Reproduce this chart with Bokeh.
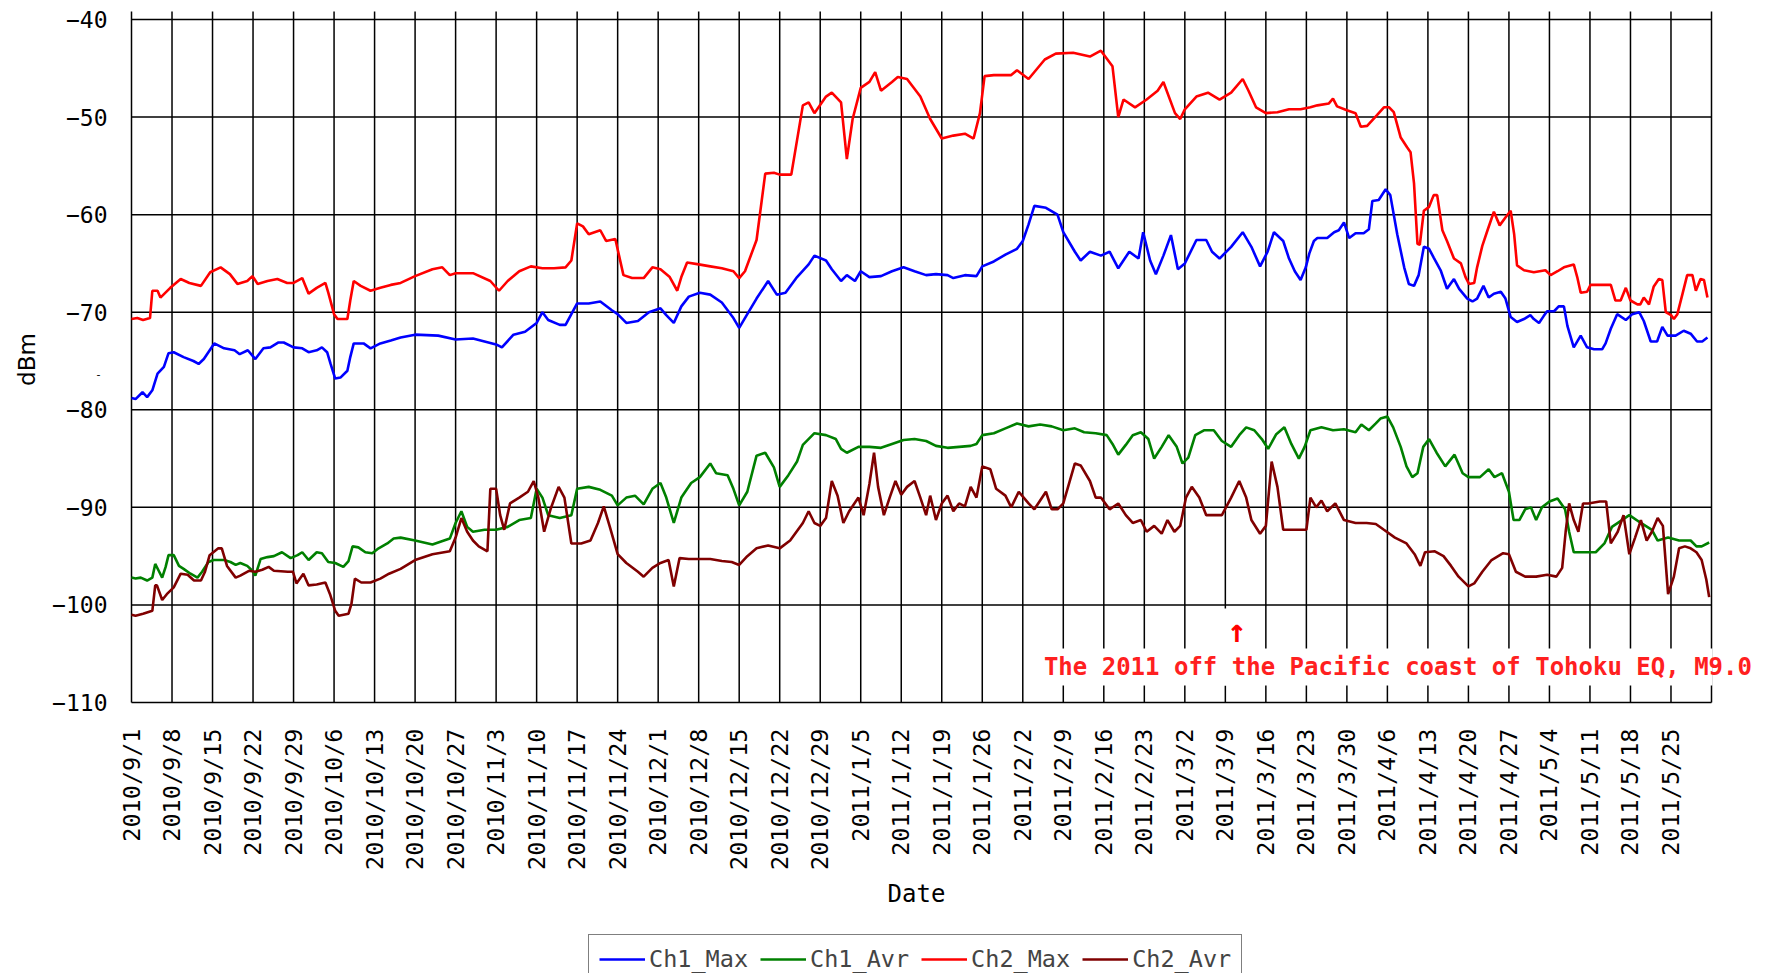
import math
from bokeh.plotting import figure
from bokeh.models import Range1d, Legend, LegendItem
from bokeh.core.properties import value
from bokeh.embed import file_html
from bokeh.resources import INLINE

# ---------------- data (days since 2010/9/1, dBm) ----------------
ch2_max_day = [0, 1, 2, 3.2, 3.6, 4.5, 5, 6.7, 8.5, 10, 12, 13.6, 15.4, 17, 18.3, 20, 20.9, 21.8, 23.5, 25.2,
               26.9, 28, 29.5, 30.6, 32, 33.5, 34, 35, 35.6, 37.3, 37.8, 38.4, 39.6, 41.3, 43, 44.8, 46.5, 49, 52, 53.7,
               55, 56, 59, 62, 63.5, 65, 67, 69, 71, 73, 75, 76, 77, 78, 79, 81, 82, 83.6, 85, 86.5,
               88.5, 90, 91.4, 93, 94.3, 95, 96, 98, 100, 102, 104, 105, 106, 108, 109.5, 111, 112, 114, 116, 117,
               118, 120, 121, 122.6, 123.6, 124.6, 126, 127.5, 128.5, 129.5, 131.4, 132.4, 134, 136.3, 138, 140, 142, 144, 145.5, 146.6,
               147.4, 149, 152, 153, 155, 156.4, 157.8, 159.7, 162.7, 165.6, 167.5, 169.5, 170.5, 171.4, 173.4, 175.4, 177.3, 178.3, 180.3, 181.2,
               182, 184, 186, 188, 190, 192, 193, 194.3, 196, 198, 200, 202, 203.7, 204.9, 206.9, 207.6, 208.3, 210, 211.5, 212.4,
               213.5, 215.2, 216.4, 217.3, 218.1, 219.3, 220.4, 221, 221.6, 222.2, 222.6, 223.3, 224.2, 225, 225.6, 226.5, 227.3, 228.5, 229.7, 230.5,
               231.1, 232, 232.5, 233.4, 234.3, 235.4, 236.4, 237.4, 238.3, 238.9, 239.4, 240.6, 242.3, 244.3, 245.2, 246.4, 247.5, 249.2, 249.8, 250.4,
               251.5, 252.1, 253.8, 255.6, 256.4, 257.3, 258.2, 259, 260.2, 260.7, 261.3, 262.2, 263, 263.9, 264.5, 265.1, 266, 266.5, 267.1, 268,
               268.8, 269.7, 270.3, 271.1, 271.7, 272.3]
ch2_max_val = [-70.7, -70.6, -70.8, -70.6, -67.8, -67.8, -68.5, -67.5, -66.6, -67, -67.3, -65.9, -65.4, -66.1, -67.1, -66.8, -66.3, -67.1, -66.8, -66.6,
               -67, -67, -66.5, -68.1, -67.5, -67, -68, -70.2, -70.7, -70.7, -68.8, -66.8, -67.3, -67.8, -67.5, -67.2, -67, -66.3, -65.6, -65.4,
               -66.2, -66, -66, -66.8, -67.8, -66.8, -65.8, -65.3, -65.5, -65.5, -65.4, -64.7, -60.9, -61.2, -62, -61.6, -62.7, -62.5, -66.2, -66.5,
               -66.5, -65.4, -65.6, -66.4, -67.8, -66.4, -64.9, -65.1, -65.3, -65.5, -65.8, -66.5, -65.8, -62.6, -55.8, -55.7, -55.9, -55.9, -48.8, -48.5,
               -49.6, -47.9, -47.5, -48.5, -54.3, -50.2, -47, -46.4, -45.4, -47.3, -46.4, -45.9, -46.1, -47.9, -50.2, -52.2, -51.9, -51.7, -52.2, -49.6,
               -45.8, -45.7, -45.7, -45.2, -46.1, -45.1, -44.1, -43.5, -43.4, -43.8, -43.2, -44.8, -50, -48.2, -49, -48.2, -47.3, -46.4, -49.6, -50.2,
               -49.2, -47.9, -47.5, -48.2, -47.5, -46.1, -47.3, -49, -49.6, -49.5, -49.2, -49.2, -49, -48.8, -48.6, -48.1, -48.9, -49.3, -49.6, -51,
               -50.9, -49.8, -49, -49, -49.5, -52.1, -53.1, -53.6, -56.8, -63, -63.1, -59.6, -59.2, -58, -58, -61.6, -62.7, -64.5, -65, -66.4,
               -67.1, -67, -65.4, -63.2, -61.6, -59.7, -61.1, -60.3, -59.6, -62, -65.2, -65.7, -65.9, -65.7, -66.2, -65.8, -65.4, -65.1, -66.4, -68,
               -67.9, -67.2, -67.2, -67.2, -68.8, -68.8, -67.5, -68.8, -69.2, -69.2, -68.5, -69.2, -67.4, -66.6, -66.7, -70, -70.3, -70.7, -70.2, -68.1,
               -66.2, -66.2, -67.8, -66.6, -66.7, -68.5]

ch1_max_day = [0, 0.7, 1.9, 2.7, 3.6, 4.5, 5.6, 6.4, 7.3, 9, 10.7, 11.6, 12.5, 14.3, 16, 17.8, 18.7, 20.1, 21.4, 22.8,
               24, 25.4, 26.3, 28, 29.5, 30.6, 32, 32.9, 33.8, 34.4, 35.2, 36.1, 37.3, 37.8, 38.4, 40.1, 41.3, 43, 44.8, 46.5,
               49, 53, 56, 59, 63, 64, 66, 68, 70, 71, 72, 74, 75, 77, 79, 81, 83, 84, 85.5, 87.5,
               89.4, 91.4, 92.4, 93.7, 95, 96.3, 98.2, 100, 102, 104, 105, 106.4, 108, 110, 111.5, 113, 115, 117, 118, 120,
               121, 122.6, 123.6, 125, 126, 127.5, 129.5, 131.4, 133.4, 135.3, 137.3, 139, 141, 142, 144, 146, 147, 149, 151, 153,
               154, 155, 156, 158, 160, 161, 163, 164, 165.6, 167.5, 169, 170.5, 172.4, 174, 174.8, 176, 177, 178.3, 179.6, 180.8,
               182, 184, 185.7, 186.7, 188, 190, 192, 193.5, 195, 196.3, 197.4, 199, 200, 201, 202, 202.9, 203.5, 204.3, 204.9, 206.6,
               207.8, 208.6, 209.5, 210.4, 211.5, 212.9, 213.8, 214.4, 215.5, 216.7, 217.5, 218.7, 219.9, 220.7, 221.6, 222.4, 223.3, 224.2, 225, 226.2,
               227.3, 228.5, 229.4, 230.8, 231.7, 232.5, 233.6, 234.5, 235.4, 236.6, 237.4, 238.3, 239.4, 240.6, 241.7, 242.3, 243.2, 244, 244.6, 245.8,
               246.6, 247.5, 248.1, 249.2, 250.4, 251.5, 252.7, 254.1, 254.7, 255.6, 256.7, 258.2, 259.3, 260.5, 261.3, 262.5, 263.6, 264.5, 265.4, 266.8,
               268.2, 269.4, 270.5, 271.4, 272.3]
ch1_max_val = [-78.8, -78.9, -78.2, -78.7, -78, -76.3, -75.6, -74.2, -74.1, -74.6, -75, -75.3, -74.8, -73.2, -73.7, -73.9, -74.3, -73.9, -74.8, -73.7,
               -73.6, -73.1, -73.1, -73.6, -73.7, -74.1, -73.9, -73.6, -74.1, -75.3, -76.8, -76.7, -76, -74.6, -73.2, -73.2, -73.7, -73.2, -72.9, -72.6,
               -72.3, -72.4, -72.8, -72.7, -73.3, -73.6, -72.3, -72, -71.1, -70, -70.8, -71.3, -71.3, -69.1, -69.1, -68.9, -69.8, -70.2, -71.1, -70.9,
               -70, -69.6, -70.3, -71.1, -69.4, -68.4, -68, -68.2, -69, -70.6, -71.6, -70.2, -68.6, -66.8, -68.2, -68, -66.4, -65.1, -64.2, -64.7,
               -65.6, -66.8, -66.2, -66.8, -65.8, -66.4, -66.3, -65.8, -65.4, -65.8, -66.2, -66.1, -66.2, -66.5, -66.2, -66.3, -65.3, -64.8, -64.1, -63.5,
               -62.7, -61, -59.1, -59.3, -60, -61.8, -63.8, -64.7, -63.8, -64.2, -63.8, -65.5, -63.8, -64.5, -61.8, -64.7, -66.1, -64.2, -62.1, -65.6,
               -65, -62.6, -62.6, -63.8, -64.5, -63.3, -61.8, -63.3, -65.3, -63.8, -61.8, -62.7, -64.5, -65.8, -66.7, -65.4, -64, -62.7, -62.4, -62.4,
               -61.8, -61.6, -60.8, -62.4, -61.9, -61.9, -61.5, -58.6, -58.5, -57.4, -58, -62, -65.4, -67.1, -67.3, -66.2, -63.3, -63.5, -64.4, -65.7,
               -67.6, -66.6, -67.6, -68.6, -68.9, -68.6, -67.3, -68.5, -68.1, -67.9, -68.6, -70.5, -71, -70.7, -70.3, -70.7, -71.1, -70.4, -69.9, -69.9,
               -69.4, -69.4, -71.4, -73.6, -72.4, -73.6, -73.8, -73.8, -73.2, -71.7, -70.2, -70.8, -70.2, -70, -70.9, -73, -73, -71.5, -72.4, -72.4,
               -71.9, -72.2, -73, -73, -72.6]

ch1_avr_day = [0, 0.7, 1.6, 2.7, 3.6, 4.1, 4.7, 5.3, 5.9, 6.4, 7.3, 8.2, 9, 10.2, 11.4, 12.2, 13.3, 14.2, 16, 17.1,
               18, 18.8, 20, 20.9, 21.4, 22.3, 23.5, 24.6, 26, 27.5, 28.7, 29.5, 30.6, 32, 32.9, 34, 35.2, 36.6, 37.5, 38.2,
               39.2, 40.4, 41.6, 42.7, 44.2, 45.3, 46.5, 49, 52, 55, 56, 57, 58, 59, 61, 63, 65, 67, 69, 70,
               71, 72, 74, 76, 77, 79, 81, 83, 84, 85.5, 87, 88.5, 90, 91.4, 92.4, 93.7, 95, 96.7, 98.2, 100,
               101, 103, 104, 105, 106.4, 108, 109.5, 111, 112, 113.5, 115, 116, 118, 120, 121.7, 122.6, 123.6, 125.6, 127.5, 129.5,
               131.4, 133.4, 135.3, 137.3, 139, 141, 143, 145, 146, 147, 149, 151, 153, 155, 157, 159, 161, 163, 164.6, 166.6,
               168.5, 169.5, 170.5, 171.8, 173, 174.4, 175.7, 176.7, 178, 179.2, 180.6, 181.6, 182.6, 183.8, 185.3, 187, 188.4, 190, 191.4, 192.6,
               194, 195.3, 196.4, 197.8, 199.2, 200.4, 201.7, 202.7, 203.7, 205.6, 207.6, 209.5, 211.5, 212.5, 213.8, 215, 215.8, 217, 218, 219.3,
               220.3, 221.3, 222.2, 223.2, 224.2, 225.5, 227, 228.6, 230, 231, 233, 234.5, 235.5, 236.8, 238, 238.8, 239.8, 240.8, 241.8, 242.7,
               243.7, 245, 246.4, 247.7, 248.4, 249.2, 251, 253, 254.5, 255.8, 258.8, 260.8, 262.7, 263.7, 265.5, 267.4, 269.4, 270.4, 271.3, 272.6]
ch1_avr_val = [-97.2, -97.3, -97.2, -97.5, -97.2, -95.8, -96.5, -97.2, -96.1, -94.9, -94.9, -96, -96.3, -96.8, -97.2, -96.6, -95.6, -95.4, -95.4, -95.6,
               -95.9, -95.7, -96, -96.5, -97, -95.3, -95.1, -95, -94.6, -95.2, -94.9, -94.6, -95.4, -94.6, -94.7, -95.6, -95.7, -96.1, -95.5, -94,
               -94.1, -94.6, -94.7, -94.2, -93.7, -93.2, -93.1, -93.4, -93.8, -93.2, -91.6, -90.4, -92, -92.5, -92.3, -92.3, -92, -91.3, -91.1, -88.1,
               -89, -90.8, -91.1, -90.8, -88.1, -87.9, -88.2, -88.8, -89.8, -89, -88.8, -89.7, -88.1, -87.5, -89, -91.6, -89, -87.5, -86.9, -85.5,
               -86.5, -86.7, -88.1, -89.8, -88.4, -84.7, -84.4, -85.9, -87.9, -86.7, -85.3, -83.6, -82.4, -82.6, -83, -84, -84.4, -83.8, -83.8, -83.9,
               -83.5, -83.1, -83, -83.2, -83.7, -83.9, -83.8, -83.7, -83.5, -82.6, -82.4, -81.9, -81.4, -81.7, -81.5, -81.7, -82.1, -81.9, -82.3, -82.4,
               -82.6, -83.5, -84.6, -83.6, -82.6, -82.3, -83, -85, -83.8, -82.6, -83.8, -85.5, -84.9, -82.6, -82.1, -82.1, -83.2, -83.8, -82.6, -81.8,
               -82.1, -83, -84, -82.5, -81.8, -83.5, -85, -83.8, -82.1, -81.8, -82.1, -82, -82.3, -81.5, -82.1, -81.4, -80.9, -80.7, -81.8, -83.8,
               -85.8, -86.9, -86.5, -83.8, -83, -84.4, -85.8, -84.6, -86.5, -86.9, -86.9, -86.1, -86.9, -86.5, -88.4, -91.3, -91.3, -90.2, -90, -91.3,
               -90, -89.4, -89.1, -90.2, -92.5, -94.6, -94.6, -94.6, -93.7, -92, -90.8, -91.6, -92.3, -93.4, -93.1, -93.4, -93.4, -94, -94, -93.6]

ch2_avr_day = [0, 0.7, 2, 3.6, 4.1, 4.4, 5.3, 6.1, 7.3, 8.5, 9.7, 10.8, 12, 12.7, 13.5, 15, 15.6, 16.5, 18, 18.8,
               20.3, 21.4, 22.6, 23.7, 24.6, 27, 27.9, 28.5, 29.7, 30.6, 32, 33.5, 34.3, 35.2, 35.8, 37.5, 38, 38.6, 39.7, 41.3,
               43, 44.5, 46.5, 49, 52, 55, 56, 57, 58, 59, 60, 61.5, 62, 63, 63.7, 64.4, 65.4, 67, 68.5, 69.5,
               70.3, 71.3, 72.4, 73.8, 74.8, 76, 77.7, 79.3, 80.6, 81.6, 82.6, 84, 85.5, 87.5, 88.5, 90, 91.4, 92.8, 93.7, 94.7,
               96.3, 98.2, 100, 102, 103.7, 105, 106.4, 108, 110, 112, 113.8, 116, 117, 118, 119, 120, 121, 122, 123, 124,
               125.6, 126.5, 127.5, 128.3, 129, 130, 131, 132, 133, 134, 135.3, 136.3, 137.3, 138, 139, 140, 141, 142, 143, 144,
               145, 146, 147, 148.4, 149.4, 151, 152, 153.3, 155, 156, 158, 159, 160, 161, 163, 164, 165.6, 166.6, 167.5, 169,
               170.5, 171.8, 173, 174.4, 175.4, 176.7, 178, 179, 180.2, 181.2, 182.2, 183.2, 184.5, 185.7, 187, 188.4, 190, 191.4, 192.6, 193.5,
               195, 196, 197, 198, 199, 201, 203, 203.7, 204.7, 205.6, 206.6, 208, 209.5, 211.5, 213.4, 215, 216.4, 218.3, 220.3, 221.7,
               222.7, 223.5, 225.2, 226.7, 228, 229.3, 231, 232, 233.4, 235, 237, 238, 239.2, 240.8, 242.7, 244.6, 246.2, 247.2, 247.8, 248.4,
               249.2, 250, 250.8, 251.7, 253.7, 254.8, 255.6, 256.8, 257.8, 258.8, 259.8, 260.8, 261.8, 262.7, 263.7, 264.6, 265.5, 266.5, 267.4, 268.4,
               269.4, 270.4, 271.3, 272.1, 272.6]
ch2_avr_val = [-101, -101.1, -100.9, -100.6, -98, -98, -99.5, -98.9, -98.2, -96.8, -96.9, -97.5, -97.5, -96.6, -94.9, -94.2, -94.2, -96, -97.2, -97,
               -96.5, -96.6, -96.4, -96.1, -96.5, -96.6, -96.6, -97.8, -96.8, -98, -97.9, -97.7, -98.9, -100.6, -101.1, -100.9, -99.9, -97.3, -97.7, -97.7,
               -97.3, -96.8, -96.3, -95.4, -94.8, -94.5, -93.1, -91.1, -92.5, -93.4, -94, -94.5, -88.1, -88.1, -90.8, -92.3, -89.6, -89, -88.4, -87.3,
               -89, -92.5, -90.2, -87.9, -89, -93.7, -93.7, -93.4, -91.6, -89.9, -91.9, -94.8, -95.7, -96.6, -97.1, -96.2, -95.7, -95.4, -98.1, -95.2,
               -95.3, -95.3, -95.3, -95.5, -95.6, -95.9, -95, -94.2, -93.9, -94.2, -93.4, -91.6, -90.4, -91.6, -91.9, -91.1, -87.3, -88.8, -91.6, -90.4,
               -89, -90.8, -87.6, -84.4, -87.9, -90.8, -89, -87.3, -88.7, -87.9, -87.3, -89, -90.8, -88.8, -91.3, -89.6, -88.8, -90.4, -89.6, -89.9,
               -87.9, -89, -85.8, -86.1, -88.1, -88.8, -90, -88.4, -89.6, -90.2, -88.4, -90.2, -90.2, -89.6, -85.5, -85.7, -87.3, -89, -89, -90.2,
               -89.6, -90.8, -91.6, -91.3, -92.5, -91.9, -92.7, -91.3, -92.5, -91.9, -89, -87.9, -89, -90.8, -90.8, -90.8, -89, -87.3, -89, -91.3,
               -92.7, -91.9, -85.3, -87.9, -92.3, -92.3, -92.3, -89, -90, -89.3, -90.4, -89.6, -91.3, -91.6, -91.6, -91.7, -92.3, -93.1, -93.7, -94.8,
               -96, -94.6, -94.5, -95, -96, -97.1, -98.1, -97.8, -96.6, -95.4, -94.7, -94.8, -96.6, -97.1, -97.1, -96.9, -97.1, -96.2, -92.5, -89.6,
               -91.3, -92.5, -89.6, -89.6, -89.4, -89.4, -93.7, -92.5, -90.8, -94.8, -93.1, -91.3, -93.4, -92.5, -91.1, -91.9, -98.9, -97.1, -94.2, -94,
               -94.2, -94.6, -95.4, -97.4, -99.2]

series_names = ["Ch1_Max", "Ch1_Avr", "Ch2_Max", "Ch2_Avr"]
series_colors = ["#0000FF", "#008000", "#FF0000", "#800000"]

# weekly ticks, days since 2010/9/1 (last one, 2011/6/1, is the right border)
x_tick_days = list(range(0, 274, 7))
x_tick_labels = ["2010/9/1", "2010/9/8", "2010/9/15", "2010/9/22", "2010/9/29", "2010/10/6", "2010/10/13",
                 "2010/10/20", "2010/10/27", "2010/11/3", "2010/11/10", "2010/11/17", "2010/11/24", "2010/12/1",
                 "2010/12/8", "2010/12/15", "2010/12/22", "2010/12/29", "2011/1/5", "2011/1/12", "2011/1/19",
                 "2011/1/26", "2011/2/2", "2011/2/9", "2011/2/16", "2011/2/23", "2011/3/2", "2011/3/9", "2011/3/16",
                 "2011/3/23", "2011/3/30", "2011/4/6", "2011/4/13", "2011/4/20", "2011/4/27", "2011/5/4",
                 "2011/5/11", "2011/5/18", "2011/5/25", ""]
y_ticks = [-110, -100, -90, -80, -70, -60, -50, -40]
y_tick_labels = ["\u2212110", "\u2212100", "\u221290", "\u221280", "\u221270", "\u221260", "\u221250", "\u221240"]

eq_day = 191  # 2011/3/11
eq_text = "The 2011 off the Pacific coast of Tohoku EQ, M9.0"

# ---------------- geometry of the plot area (pixels) ----------------
W, H = 1771, 973
AREA_L, AREA_R = 131, 1711      # x of day 0 and day 273
AREA_T, AREA_B = 19, 702        # y of -40 and -110
X0, X1 = x_tick_days[0], x_tick_days[-1]
Y0, Y1 = y_ticks[0], y_ticks[-1]
kx = (AREA_R - AREA_L) / (X1 - X0)
ky = (AREA_B - AREA_T) / (Y1 - Y0)
x_start = X0 - AREA_L / kx
x_end = X1 + (W - AREA_R) / kx
y_end = Y1 + AREA_T / ky
y_start = Y0 - (H - AREA_B) / ky


def dx(px):
    return px / kx


def dy(px):
    return px / ky


MONO = "DejaVu Sans Mono"
p = figure(width=W, height=H, output_backend="svg", toolbar_location=None,
           x_axis_type=None, y_axis_type=None,
           x_range=Range1d(x_start, x_end), y_range=Range1d(y_start, y_end),
           min_border=0)
p.outline_line_color = None
p.background_fill_color = "white"
p.border_fill_color = "white"

# grid (also forms the axes); vertical lines stick out 8 px above the top
grid_top = Y1 + dy(8)
p.segment(x0=[X0] * len(y_ticks), x1=[X1] * len(y_ticks), y0=y_ticks, y1=y_ticks,
          line_color="black", line_width=1.5)
p.segment(x0=x_tick_days, x1=x_tick_days, y0=[Y0] * len(x_tick_days), y1=[grid_top] * len(x_tick_days),
          line_color="black", line_width=1.5)

# white boxes behind the earthquake arrow and text
p.quad(left=[eq_day - dx(19)], right=[eq_day + dx(19)],
       bottom=[Y0 + dy(17)], top=[Y0 + dy(94)], fill_color="white", line_color=None)
p.quad(left=[eq_day - dx(198)], right=[X1 + dx(1)],
       bottom=[Y0 + dy(17)], top=[Y0 + dy(54)], fill_color="white", line_color=None)

# tick labels
p.text(x=[X0 - dx(24)] * len(y_ticks), y=y_ticks, text=y_tick_labels,
       text_align="right", text_baseline="middle", text_font=value(MONO),
       text_font_size="23px", text_color="black")
p.text(x=x_tick_days, y=[Y0 - dy(26)] * len(x_tick_days), text=x_tick_labels, angle=math.pi / 2,
       text_align="right", text_baseline="middle", text_font=value(MONO),
       text_font_size="23.5px", text_color="black")

# axis titles
p.text(x=[X0 - dx(105)], y=[Y1 - dy(340)], text=["dBm"], angle=math.pi / 2,
       text_align="center", text_baseline="middle", text_font=value("DejaVu Sans"),
       text_font_size="23px", text_color="black")
p.text(x=[X0 - dx(33)], y=[Y1 - dy(354)], text=["-"], text_align="center", text_baseline="middle",
       text_font=value("DejaVu Sans"), text_font_size="11px", text_color="black")
p.text(x=[X0 + (X1 - X0) / 2 - dx(5)], y=[Y0 - dy(191)], text=["Date"],
       text_align="center", text_baseline="middle", text_font=value(MONO),
       text_font_size="24px", text_color="black")

# data
series = [(ch1_max_day, ch1_max_val), (ch1_avr_day, ch1_avr_val),
          (ch2_max_day, ch2_max_val), (ch2_avr_day, ch2_avr_val)]
renderers = []
for (xs, ys), c in zip(series, series_colors):
    renderers.append(p.line(xs, ys, line_color=c, line_width=2.6))

# earthquake annotation
p.text(x=[eq_day], y=[Y0 + dy(72)], text=["\u2191"], text_align="center", text_baseline="middle",
       text_font=value(MONO), text_font_size="32px", text_font_style="bold", text_color="#FF0000")
p.text(x=[eq_day - dx(193)], y=[Y0 + dy(35.5)], text=[eq_text], text_align="left",
       text_baseline="middle", text_font=value(MONO), text_font_size="24px",
       text_font_style="bold", text_color="#FF2020")

legend = Legend(items=[LegendItem(label=n, renderers=[r]) for n, r in zip(series_names, renderers)],
                orientation="horizontal", location=(588, 37 - 48))
legend.label_text_font = MONO
legend.label_text_font_size = "23.5px"
legend.label_height = 28
legend.glyph_height = 28
legend.glyph_width = 46
legend.label_standoff = 4
legend.spacing = 12
legend.padding = 10
legend.margin = 0
legend.border_line_color = "black"
legend.border_line_width = 1.5
legend.background_fill_color = "white"
legend.background_fill_alpha = 1.0
p.add_layout(legend)

open("out.html", "w").write(file_html(p, INLINE))
